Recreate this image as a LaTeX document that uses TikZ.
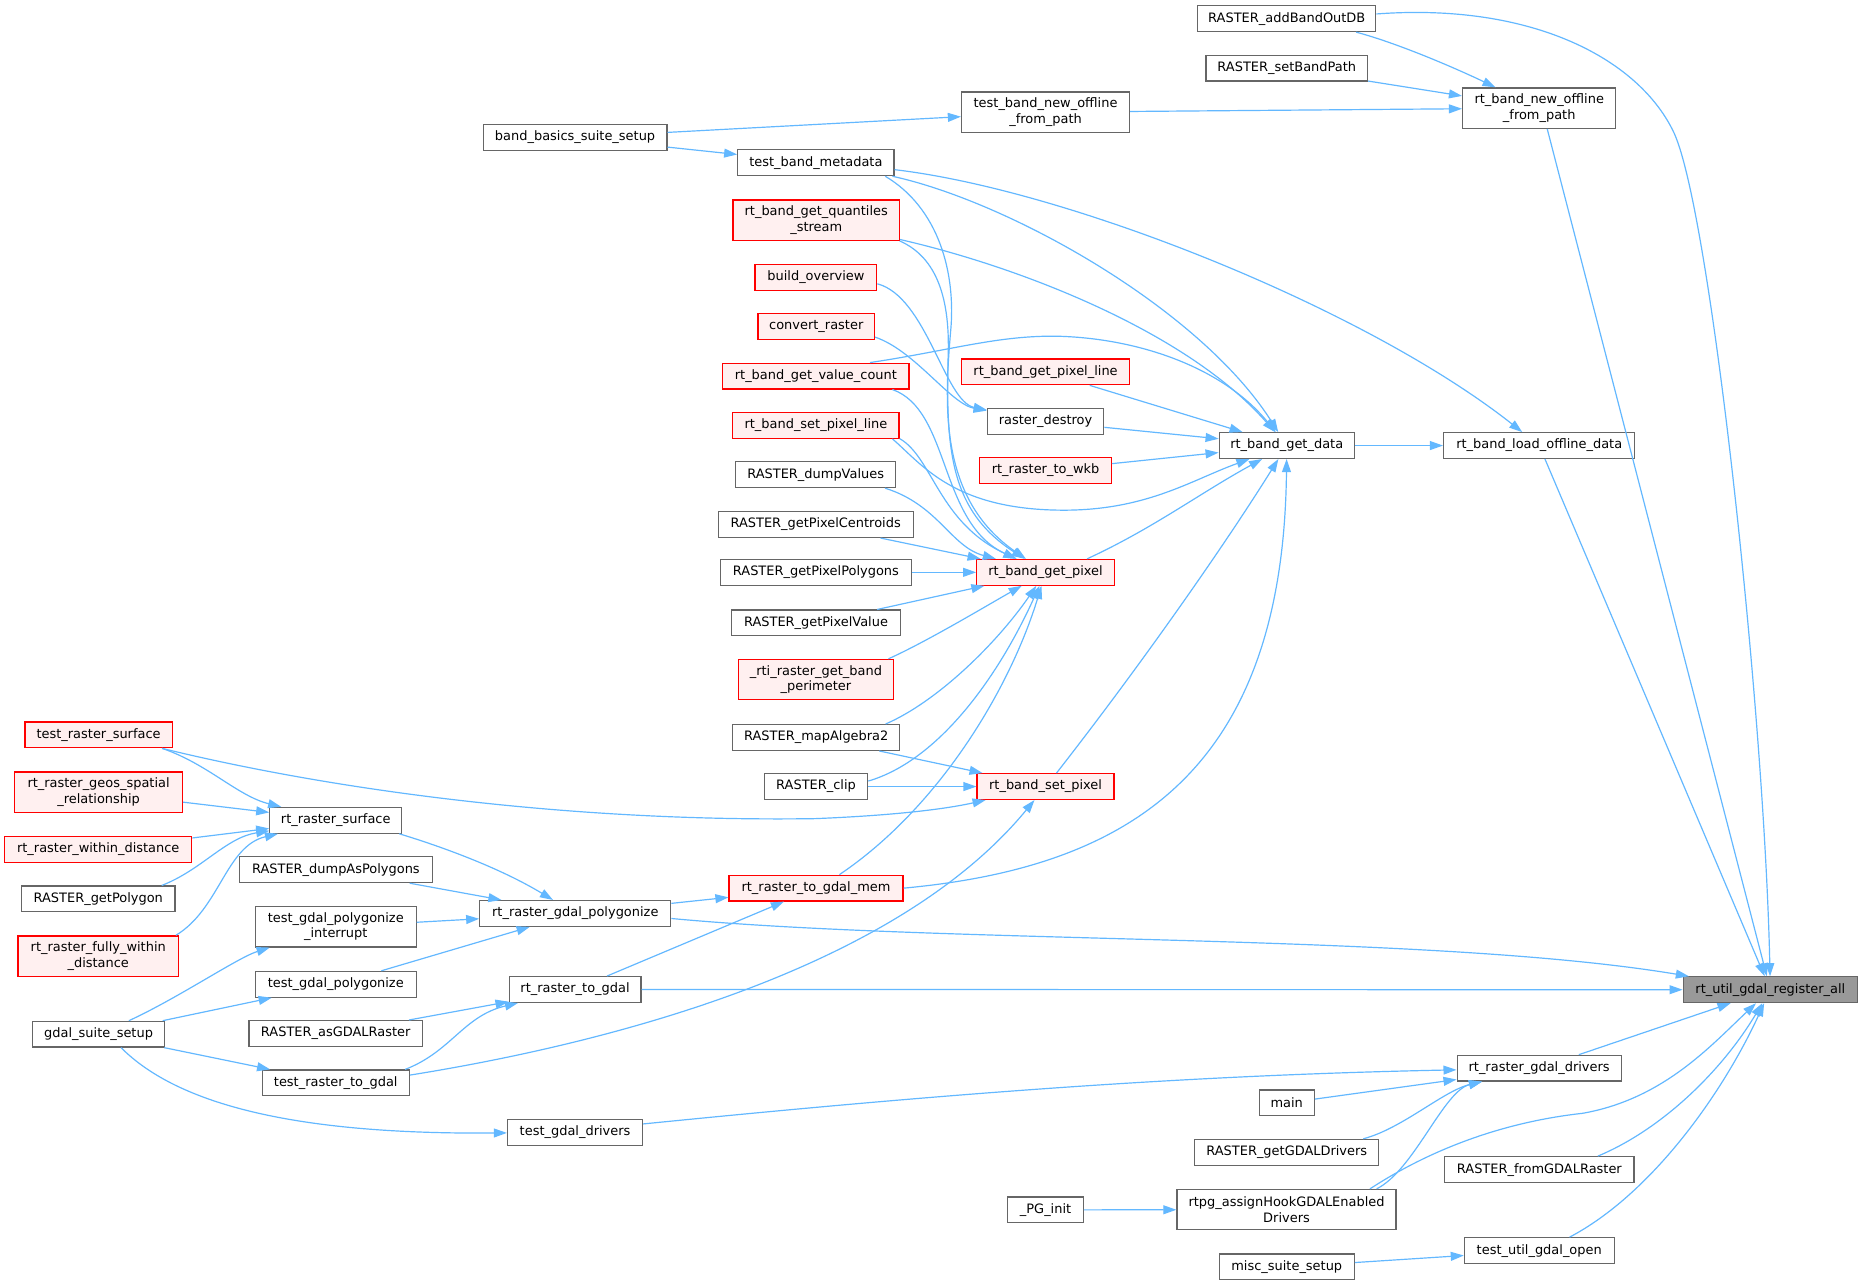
\documentclass[tikz,border=0pt]{standalone}
\usepackage{fontspec}
\setmainfont{DejaVu Sans}
\usetikzlibrary{arrows.meta}
\definecolor{eb}{HTML}{63B8FF}
\definecolor{gborder}{HTML}{666666}
\definecolor{rborder}{HTML}{FF0000}
\definecolor{rfill}{HTML}{FFF0F0}
\definecolor{rootfill}{HTML}{999999}
\begin{document}
\begin{tikzpicture}[x=1bp,y=-1bp,
  gn/.style={draw=gborder, fill=white, line width=1bp, minimum height=21.7bp, inner sep=0pt, font=\fontsize{10.9bp}{12.8bp}\selectfont, align=center},
  rn/.style={gn, draw=rborder, fill=rfill},
  tall/.style={minimum height=34bp},
  edg/.style={draw=eb, line width=1bp, -{Triangle[length=11bp,width=7.5bp]}}
]
\fill[white] (0,0) rectangle (1568,1081.5);
\useasboundingbox (0,0) rectangle (1568,1081.5);

% nodes
\node[gn, fill=rootfill, minimum width=146.7bp] (root) at (1490,833) {rt\_util\_gdal\_register\_all};
\node[gn, minimum width=150bp] (addband) at (1083,15.7) {RASTER\_addBandOutDB};
\node[gn, minimum width=136bp] (setband) at (1083,57.4) {RASTER\_setBandPath};
\node[gn, tall, minimum width=129bp] (newoff) at (1295.5,91) {rt\_band\_new\_offline\\\_from\_path};
\node[gn, tall, minimum width=141.5bp] (tnewoff) at (880,94.4) {test\_band\_new\_offline\\\_from\_path};
\node[gn, minimum width=154.6bp] (bbss) at (484,115.6) {band\_basics\_suite\_setup};
\node[gn, minimum width=131.5bp] (meta) at (686.7,137) {test\_band\_metadata};
\node[rn, tall, minimum width=140bp] (quant) at (687,185.3) {rt\_band\_get\_quantiles\\\_stream};
\node[rn, minimum width=102.5bp] (build) at (686.7,233.4) {build\_overview};
\node[rn, minimum width=98bp] (conv) at (687,275) {convert\_raster};
\node[rn, minimum width=156.6bp] (vcount) at (686.7,316.5) {rt\_band\_get\_value\_count};
\node[rn, minimum width=141.7bp] (gpl) at (880,313) {rt\_band\_get\_pixel\_line};
\node[rn, minimum width=140bp] (spl) at (686.7,358) {rt\_band\_set\_pixel\_line};
\node[gn, minimum width=98bp] (destroy) at (880,354.7) {raster\_destroy};
\node[gn, minimum width=113.7bp] (gdata) at (1083,375) {rt\_band\_get\_data};
\node[gn, minimum width=161bp] (load) at (1295.5,375) {rt\_band\_load\_offline\_data};
\node[rn, minimum width=110.6bp] (wkb) at (880,396) {rt\_raster\_to\_wkb};
\node[gn, minimum width=134.5bp] (dumpv) at (686.5,399.5) {RASTER\_dumpValues};
\node[gn, minimum width=164bp] (centr) at (686.5,441.5) {RASTER\_getPixelCentroids};
\node[rn, minimum width=115.8bp] (gpix) at (880,481.7) {rt\_band\_get\_pixel};
\node[gn, minimum width=160.3bp] (polys) at (686.7,481.7) {RASTER\_getPixelPolygons};
\node[gn, minimum width=141.6bp] (pval) at (686.8,524.3) {RASTER\_getPixelValue};
\node[rn, tall, minimum width=130.5bp] (rti) at (686.7,572) {\_rti\_raster\_get\_band\\\_perimeter};
\node[gn, minimum width=140.4bp] (mapalg) at (687,620.7) {RASTER\_mapAlgebra2};
\node[gn, minimum width=87bp] (clip) at (686.8,662) {RASTER\_clip};
\node[rn, minimum width=115.3bp] (spix) at (880,662) {rt\_band\_set\_pixel};
\node[rn, minimum width=146.4bp] (tgm) at (686.8,747.5) {rt\_raster\_to\_gdal\_mem};
\node[rn, minimum width=124bp] (trs) at (83,618.5) {test\_raster\_surface};
\node[rn, tall, minimum width=141bp] (geos) at (83,666.7) {rt\_raster\_geos\_spatial\\\_relationship};
\node[gn, minimum width=111bp] (rsurf) at (282.6,690.4) {rt\_raster\_surface};
\node[rn, minimum width=157.4bp] (within) at (82.7,715) {rt\_raster\_within\_distance};
\node[gn, minimum width=162bp] (dumpap) at (282.7,732) {RASTER\_dumpAsPolygons};
\node[gn, minimum width=129.2bp] (getpoly) at (82.7,756.6) {RASTER\_getPolygon};
\node[gn, minimum width=160.7bp] (polyg) at (484.2,768.8) {rt\_raster\_gdal\_polygonize};
\node[gn, tall, minimum width=135.3bp] (inter) at (282.6,780) {test\_gdal\_polygonize\\\_interrupt};
\node[rn, tall, minimum width=135bp] (fully) at (82.7,804.7) {rt\_raster\_fully\_within\\\_distance};
\node[gn, minimum width=135.3bp] (tgp) at (282.6,828.4) {test\_gdal\_polygonize};
\node[gn, minimum width=111bp] (togdal) at (484,832.8) {rt\_raster\_to\_gdal};
\node[gn, minimum width=146bp] (asgdal) at (282.5,869.8) {RASTER\_asGDALRaster};
\node[gn, minimum width=111bp] (gss) at (83,870.4) {gdal\_suite\_setup};
\node[gn, minimum width=124bp] (trtg) at (282.6,911.4) {test\_raster\_to\_gdal};
\node[gn, minimum width=113.7bp] (tgd) at (484,953) {test\_gdal\_drivers};
\node[gn, minimum width=63.6bp] (pginit) at (880,1018.3) {\_PG\_init};
\node[gn, minimum width=138bp] (rgd) at (1295.4,899) {rt\_raster\_gdal\_drivers};
\node[gn, minimum width=46.4bp] (mainfn) at (1083,928.3) {main};
\node[gn, minimum width=155bp] (getgdal) at (1083,969.8) {RASTER\_getGDALDrivers};
\node[gn, minimum width=159.3bp] (fromgdal) at (1295.6,984.4) {RASTER\_fromGDALRaster};
\node[gn, tall, minimum width=184.4bp] (rtpg) at (1082.8,1018.1) {rtpg\_assignHookGDALEnabled\\Drivers};
\node[gn, minimum width=126bp] (tugo) at (1295.5,1052.6) {test\_util\_gdal\_open};
\node[gn, minimum width=113.7bp] (misc) at (1083,1066.3) {misc\_suite\_setup};

% edges
\draw[edg] (addband.-11) .. controls (1175,36) and (1222,56) .. (newoff);
\draw[edg] (addband.3) .. controls (1290,2) and (1380,50) .. (1409,112) .. controls (1440,180) and (1485,600) .. (root);
\draw[edg] (setband) -- (newoff);
\draw[edg] (tnewoff) -- (newoff);
\draw[edg] (bbss) -- (tnewoff);
\draw[edg] (bbss) -- (meta);
\draw[edg] (newoff.-69) -- (root);
\draw[edg] (meta.-10) .. controls (850,170) and (1010,260) .. (gdata);
\draw[edg] (meta.-5) .. controls (900,160) and (1150,260) .. (load);
\draw[edg] (meta.-11) .. controls (790,175) and (805,230) .. (800,280) .. controls (795,340) and (790,420) .. (gpix);
\draw[edg] (quant.-13) .. controls (860,225) and (1000,280) .. (gdata);
\draw[edg] (quant.-14) .. controls (785,215) and (800,245) .. (798,300) .. controls (796,380) and (800,430) .. (gpix);
\draw[edg] (build.-6) .. controls (780,250) and (795,338) .. (destroy);
\draw[edg] (conv.-10) .. controls (770,295) and (800,340) .. (destroy);
\draw[edg] (vcount.14) .. controls (800,295) and (840,282) .. (891,283) .. controls (960,285) and (1030,310) .. (gdata);
\draw[edg] (vcount.-10) .. controls (800,345) and (790,440) .. (gpix);
\draw[edg] (gpl) -- (gdata);
\draw[edg] (spl.-10) .. controls (775,390) and (800,425) .. (880,429) .. controls (960,433) and (1000,405) .. (gdata);
\draw[edg] (spl.-9) .. controls (785,385) and (790,440) .. (gpix);
\draw[edg] (destroy) -- (gdata);
\draw[edg] (wkb) -- (gdata);
\draw[edg] (dumpv.-11) .. controls (790,425) and (800,460) .. (gpix);
\draw[edg] (centr) -- (gpix);
\draw[edg] (polys) -- (gpix);
\draw[edg] (pval) -- (gpix);
\draw[edg] (rti.16.5) .. controls (780,540) and (830,510) .. (gpix);
\draw[edg] (mapalg.11) .. controls (790,590) and (840,540) .. (gpix);
\draw[edg] (clip.6) .. controls (790,640) and (840,570) .. (gpix);
\draw[edg] (mapalg) -- (spix);
\draw[edg] (clip) -- (spix);
\draw[edg] (trs.-12) .. controls (280,665) and (480,692) .. (686,689) .. controls (760,686) and (800,680) .. (spix);
\draw[edg] (trs.-12) .. controls (175,643) and (200,670) .. (rsurf);
\draw[edg] (geos) -- (rsurf);
\draw[edg] (within) -- (rsurf);
\draw[edg] (getpoly.12) .. controls (170,732) and (190,705) .. (rsurf);
\draw[edg] (fully.15) .. controls (185,765) and (190,712) .. (rsurf);
\draw[edg] (rsurf.-12) .. controls (370,712) and (420,730) .. (polyg);
\draw[edg] (dumpap) -- (polyg);
\draw[edg] (inter) -- (polyg);
\draw[edg] (tgp) -- (polyg);
\draw[edg] (polyg) -- (tgm);
\draw[edg] (polyg.-3) .. controls (800,795) and (1200,785) .. (root);
\draw[edg] (togdal) -- (tgm);
\draw[edg] (togdal) -- (root);
\draw[edg] (asgdal) -- (togdal);
\draw[edg] (trtg.11) .. controls (380,885) and (390,855) .. (togdal);
\draw[edg] (trtg.6) .. controls (500,880) and (750,820) .. (spix);
\draw[edg] (tgm.30) .. controls (790,680) and (850,580) .. (gpix);
\draw[edg] (tgm.east) .. controls (950,730) and (1080,650) .. (gdata);
\draw[edg] (gpix.18) .. controls (970,445) and (1010,415) .. (gdata);
\draw[edg] (spix.51) .. controls (960,560) and (1030,460) .. (gdata);
\draw[edg] (gdata) -- (load);
\draw[edg] (load) -- (root);
\draw[edg] (gss.24) .. controls (150,840) and (200,806) .. (inter);
\draw[edg] (gss) -- (tgp);
\draw[edg] (gss) -- (trtg);
\draw[edg] (gss.-31) .. controls (150,930) and (250,955) .. (tgd);
\draw[edg] (tgd.7) .. controls (800,920) and (1000,905) .. (rgd);
\draw[edg] (rgd) -- (root);
\draw[edg] (mainfn) -- (rgd);
\draw[edg] (getgdal.10) .. controls (1180,950) and (1215,918) .. (rgd);
\draw[edg] (rtpg.13) .. controls (1190,985) and (1215,918) .. (rgd);
\draw[edg] (rtpg.14) .. controls (1200,970) and (1260,945) .. (1332,937) .. controls (1400,925) and (1440,880) .. (root);
\draw[edg] (pginit) -- (rtpg);
\draw[edg] (fromgdal.13) .. controls (1400,950) and (1450,900) .. (root);
\draw[edg] (tugo.24) .. controls (1390,1005) and (1450,920) .. (root);
\draw[edg] (misc) -- (tugo);
\end{tikzpicture}
\end{document}
